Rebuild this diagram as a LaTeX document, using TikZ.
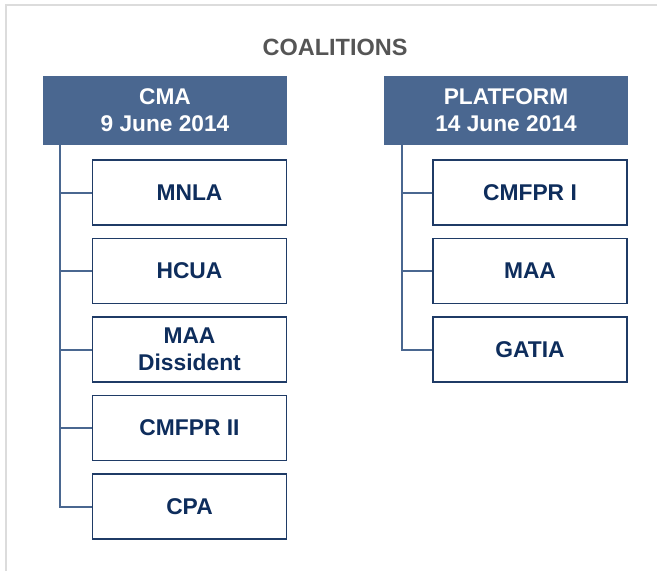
\documentclass[tikz,border=0pt]{standalone}
\usepackage{fontspec}
\setmainfont{Liberation Sans}
\usetikzlibrary{positioning}

\definecolor{blutesta}{HTML}{4A6790}
\definecolor{blubordo}{HTML}{1F3B66}
\definecolor{blutesto}{HTML}{0E2D5C}
\definecolor{grigiotit}{HTML}{555555}
\definecolor{grigiocornice}{HTML}{DCDCDC}

\begin{document}
\begin{tikzpicture}[x=1pt,y=-1pt,
	testa/.style={rectangle, fill=blutesta, text=white, align=center,
		minimum width=244pt, minimum height=69pt, inner sep=0pt,
		font=\fontsize{22.7}{27}\selectfont\bfseries},
	gruppo/.style={rectangle, draw=blubordo, fill=white, text=blutesto, align=center,
		minimum width=194pt, minimum height=65pt, inner sep=0pt, line width=1.5pt,
		font=\fontsize{22.8}{27}\selectfont\bfseries},
	ramo/.style={line width=2pt, blutesta},
	cornice/.style={line width=2pt, grigiocornice},
	]
	\def\dy{78.5}
	\useasboundingbox (0,0) rectangle (657,571);
	
	%% ── cornice e titolo ───────────────────────────────────
	\draw[cornice](5.5,571)--(5.5,4.5)--(657,4.5);
	\node[text=grigiotit,font=\fontsize{23.5}{26}\selectfont\bfseries](titolo)at(335,47){COALITIONS};
	
	%% ── CMA ────────────────────────────────────────────────
	\node[testa](cma)at(165,110.5){CMA\\9 June 2014};
	\foreach \nome/\testo [count=\i] in {mnla/MNLA,hcua/HCUA,maad/{MAA\\Dissident},cmfpra/CMFPR II,cpa/CPA}
	\node[gruppo](\nome)at(189.5,{192.5+\dy*(\i-1)}){\testo};
	\foreach \nome in {mnla,hcua,maad,cmfpra,cpa}
	\draw[ramo]([xshift=17pt]cma.south west)|-(\nome.west);
	
	%% ── PLATFORM ───────────────────────────────────────────
	\node[testa](plat)at(506,110.5){PLATFORM\\14 June 2014};
	\foreach \nome/\testo [count=\i] in {cmfprb/CMFPR I,maa/MAA,gatia/GATIA}
	\node[gruppo](\nome)at(530,{192.5+\dy*(\i-1)}){\testo};
	\foreach \nome in {cmfprb,maa,gatia}
	\draw[ramo]([xshift=18pt]plat.south west)|-(\nome.west);
	
\end{tikzpicture}
\end{document}
